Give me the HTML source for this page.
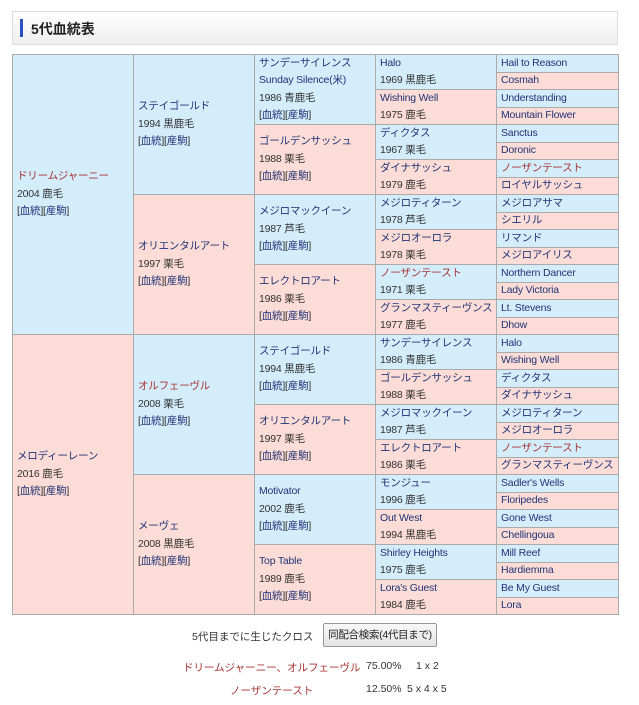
<!DOCTYPE html>
<html><head><meta charset="utf-8"><style>
body{margin:0;width:639px;height:705px;background:#fff;font-family:"Liberation Sans","Noto Sans CJK JP",sans-serif;position:relative;overflow:hidden}
.hd{position:absolute;left:12px;top:11px;width:604px;height:32px;border:1px solid #ddd;background:linear-gradient(#fff,#eee)}
.hd .bar{position:absolute;left:7px;top:7px;width:3px;height:18px;background:#2a4fc0}
.hd .t{position:absolute;left:18px;top:7px;font-size:14px;font-weight:bold;color:#222}
.c{position:absolute;box-sizing:border-box;border:1px solid #aaa;font-size:10.5px;line-height:17.5px;color:#333;display:flex;flex-direction:column;justify-content:center;padding-left:4px;white-space:nowrap;overflow:hidden;letter-spacing:-0.2px}
.s{background:#d4edfb}.d{background:#fbdcd6}
.n{color:#223377}.r{color:#a83232}
.x{position:absolute;font-size:10.5px;color:#333;white-space:nowrap}
.x.r{color:#a83232}
.btn{position:absolute;left:323px;top:623px;width:114px;height:24px;box-sizing:border-box;border:1px solid #999;border-radius:2px;background:linear-gradient(#f8f8f8,#e4e4e4);font-size:10.5px;line-height:22px;text-align:center;color:#222;white-space:nowrap;letter-spacing:-0.3px}
</style></head><body>
<div class="hd"><div class="bar"></div><div class="t">5代血統表</div></div>
<div id="tb"></div>
<div class="x" style="left:192px;top:629px">5代目までに生じたクロス</div>
<div class="btn">同配合検索(4代目まで)</div>
<div class="x r" style="left:183px;top:660px">ドリームジャーニー、オルフェーヴル</div>
<div class="x" style="left:366px;top:660px">75.00%</div>
<div class="x" style="left:416px;top:660px">1 x 2</div>
<div class="x r" style="left:230px;top:683px">ノーザンテースト</div>
<div class="x" style="left:366px;top:683px">12.50%</div>
<div class="x" style="left:407px;top:683px">5 x 4 x 5</div>
<script>
var L='[<span class="n">血統</span>][<span class="n">産駒</span>]';
var cols=[
[["ドリームジャーニー","2004 鹿毛",1],["メロディーレーン","2016 鹿毛"]],
[["ステイゴールド","1994 黒鹿毛"],["オリエンタルアート","1997 栗毛"],["オルフェーヴル","2008 栗毛",1],["メーヴェ","2008 黒鹿毛"]],
[["サンデーサイレンス<br>Sunday Silence(米)","1986 青鹿毛"],["ゴールデンサッシュ","1988 栗毛"],["メジロマックイーン","1987 芦毛"],["エレクトロアート","1986 栗毛"],["ステイゴールド","1994 黒鹿毛"],["オリエンタルアート","1997 栗毛"],["Motivator","2002 鹿毛"],["Top Table","1989 鹿毛"]],
[["Halo","1969 黒鹿毛"],["Wishing Well","1975 鹿毛"],["ディクタス","1967 栗毛"],["ダイナサッシュ","1979 鹿毛"],["メジロティターン","1978 芦毛"],["メジロオーロラ","1978 栗毛"],["ノーザンテースト","1971 栗毛",1],["グランマスティーヴンス","1977 鹿毛"],["サンデーサイレンス","1986 青鹿毛"],["ゴールデンサッシュ","1988 栗毛"],["メジロマックイーン","1987 芦毛"],["エレクトロアート","1986 栗毛"],["モンジュー","1996 鹿毛"],["Out West","1994 黒鹿毛"],["Shirley Heights","1975 鹿毛"],["Lora's Guest","1984 鹿毛"]],
["Hail to Reason","Cosmah","Understanding","Mountain Flower","Sanctus","Doronic","*ノーザンテースト","ロイヤルサッシュ","メジロアサマ","シエリル","リマンド","メジロアイリス","Northern Dancer","Lady Victoria","Lt. Stevens","Dhow","Halo","Wishing Well","ディクタス","ダイナサッシュ","メジロティターン","メジロオーロラ","*ノーザンテースト","グランマスティーヴンス","Sadler's Wells","Floripedes","Gone West","Chellingoua","Mill Reef","Hardiemma","Be My Guest","Lora"]];
var xs=[12,133,254,375,496,618],h='';
for(var c=0;c<5;c++){var a=cols[c],hh=560/a.length;
for(var i=0;i<a.length;i++){var e=a[i],t;
if(c==4){var r=e[0]=='*';t='<div class="'+(r?'r':'n')+'">'+(r?e.slice(1):e)+'</div>';}
else{t='<div class="'+(e[2]?'r':'n')+'">'+e[0]+'</div><div>'+e[1]+'</div>'+(c<3?'<div>'+L+'</div>':'');}
var y=54+i*hh;
h+='<div class="c '+(i%2?'d':'s')+'" style="left:'+xs[c]+'px;top:'+y+'px;width:'+(xs[c+1]-xs[c]+1)+'px;height:'+(hh+1)+'px">'+t+'</div>';}}
document.getElementById('tb').innerHTML=h;
</script>
</body></html>
